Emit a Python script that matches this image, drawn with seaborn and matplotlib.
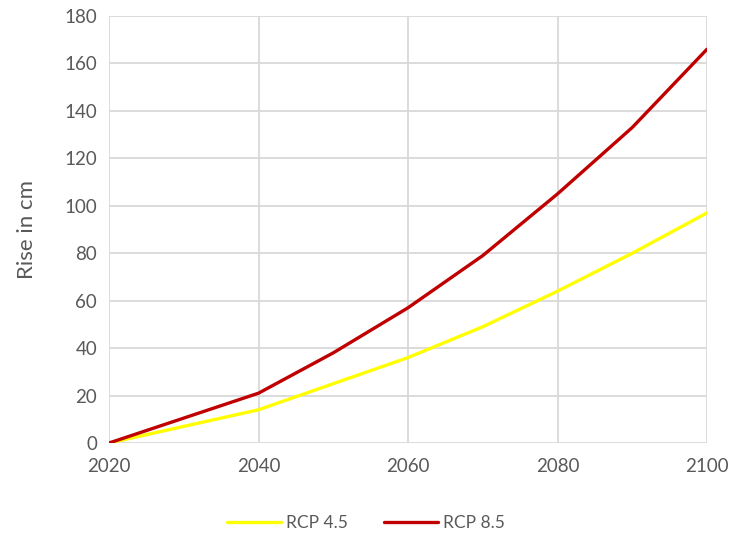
import numpy as np
import pandas as pd
import matplotlib
matplotlib.use('Agg')
import matplotlib.pyplot as plt
import seaborn as sns

# Sea level rise projections (cm)
years = [2020, 2030, 2040, 2050, 2060, 2070, 2080, 2090, 2100]
rcp45 = [0, 7, 14, 25, 36, 49, 64, 80, 97]
rcp85 = [0, 10.5, 21, 38, 57, 79, 105, 133, 166]
series_names = ['RCP 4.5', 'RCP 8.5']
colors = ['#ffff00', '#c00000']

df = pd.DataFrame({'Year': years, 'RCP 4.5': rcp45, 'RCP 8.5': rcp85})
long = df.melt(id_vars='Year', var_name='Scenario', value_name='Rise')

sns.set_style('white')
plt.rcParams['font.family'] = ['Lato', 'DejaVu Sans']
text_color = '#595959'
grid_color = '#d9d9d9'

fig = plt.figure(figsize=(7.32, 5.39), dpi=100)
ax = fig.add_axes([109 / 732, 1 - 443 / 539, (707 - 109) / 732, (443 - 16) / 539])

sns.lineplot(data=long, x='Year', y='Rise', hue='Scenario', hue_order=series_names,
             palette=colors, linewidth=2.4, ax=ax, legend=False)

ax.set_xlim(2020, 2100)
ax.set_ylim(0, 180)
ax.set_xticks(range(2020, 2101, 20))
ax.set_yticks(range(0, 181, 20))
ax.grid(True, color=grid_color, linewidth=1.3)
ax.set_axisbelow(True)
for side in ['top', 'right', 'left', 'bottom']:
    ax.spines[side].set_visible(False)
ax.tick_params(axis='both', length=0, labelsize=13.5, colors=text_color)
ax.tick_params(axis='x', pad=11)
ax.tick_params(axis='y', pad=8.5)
ax.set_xlabel('')
ax.set_ylabel('Rise in cm', fontsize=16, color=text_color)
ax.yaxis.set_label_coords((37 - 109) / 598, 0.5)

handles = [plt.Line2D([], [], color=c, linewidth=2.4) for c in colors]
fig.legend(handles, series_names, loc='center', bbox_to_anchor=(0.5, 1 - 523 / 539),
           ncol=2, frameon=False, fontsize=12.5, labelcolor=text_color,
           handlelength=3.1, columnspacing=2.1, handletextpad=0.3)

fig.savefig('out.png', dpi=100)
